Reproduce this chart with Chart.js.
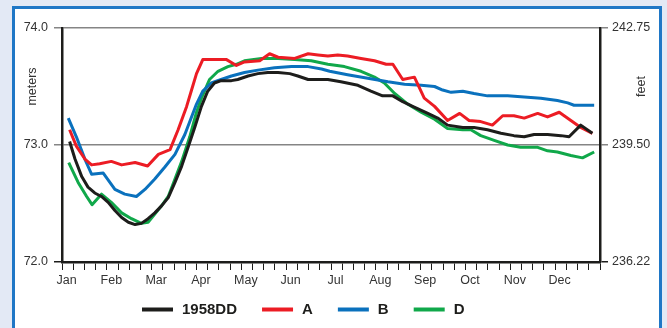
<!DOCTYPE html>
<html>
<head>
<meta charset="utf-8">
<title>Reservoir level 1958DD, A, B, D</title>
<script src="https://cdn.jsdelivr.net/npm/chart.js@4.4.1/dist/chart.umd.min.js"></script>
<style>
  html, body { margin: 0; padding: 0; background: #e3e9f5; overflow: hidden; }
  #panel {
    position: absolute; left: 12px; top: 6px; width: 644px; height: 340px;
    border: 3px solid #1f77c6; background: #ffffff;
  }
  #chart { position: absolute; left: 0; top: 0; }
</style>
</head>
<body>
<div id="panel"></div>
<canvas id="chart" width="667" height="328"></canvas>
<script>
// Month labels and axis ticks
const monthLabels = ['Jan', 'Feb', 'Mar', 'Apr', 'May', 'Jun', 'Jul', 'Aug', 'Sep', 'Oct', 'Nov', 'Dec'];
const meterTicks = [72.0, 73.0, 74.0];
const feetTicks = [236.22, 239.50, 242.75];

// Series: time in months from Jan 1, water level in meters
const monthsDD = [0.17, 0.29, 0.44, 0.58, 0.73, 0.88, 1.03, 1.18, 1.33, 1.48, 1.63, 1.77, 1.92, 2.07, 2.22, 2.37, 2.52, 2.67, 2.82, 2.96, 3.11, 3.25, 3.40, 3.55, 3.78, 3.92, 4.15, 4.37, 4.59, 4.82, 5.08, 5.26, 5.49, 5.71, 5.93, 6.22, 6.60, 6.89, 7.15, 7.38, 7.60, 7.82, 8.16, 8.38, 8.60, 8.94, 9.19, 9.49, 9.79, 10.08, 10.31, 10.53, 10.83, 11.13, 11.31, 11.57, 11.83];
const levelsDD = [73.03, 72.88, 72.73, 72.64, 72.59, 72.56, 72.51, 72.44, 72.38, 72.34, 72.32, 72.33, 72.37, 72.42, 72.48, 72.55, 72.68, 72.82, 72.99, 73.15, 73.33, 73.46, 73.53, 73.55, 73.55, 73.56, 73.59, 73.61, 73.62, 73.62, 73.61, 73.59, 73.56, 73.56, 73.56, 73.54, 73.51, 73.46, 73.42, 73.42, 73.37, 73.33, 73.27, 73.23, 73.17, 73.15, 73.15, 73.13, 73.10, 73.08, 73.07, 73.09, 73.09, 73.08, 73.07, 73.17, 73.10];

const monthsA = [0.17, 0.32, 0.51, 0.66, 0.84, 1.10, 1.33, 1.63, 1.91, 2.15, 2.41, 2.59, 2.78, 2.89, 3.00, 3.14, 3.67, 3.89, 4.07, 4.41, 4.63, 4.82, 5.19, 5.49, 5.71, 5.93, 6.15, 6.37, 6.67, 6.97, 7.23, 7.38, 7.60, 7.86, 8.08, 8.31, 8.60, 8.87, 9.08, 9.34, 9.60, 9.83, 10.08, 10.31, 10.61, 10.83, 11.09, 11.35, 11.57, 11.83];
const levelsA = [73.13, 72.99, 72.88, 72.83, 72.84, 72.86, 72.83, 72.85, 72.82, 72.92, 72.96, 73.13, 73.33, 73.47, 73.61, 73.73, 73.73, 73.68, 73.71, 73.72, 73.78, 73.75, 73.74, 73.78, 73.77, 73.76, 73.77, 73.76, 73.74, 73.72, 73.69, 73.69, 73.56, 73.58, 73.40, 73.33, 73.21, 73.27, 73.21, 73.20, 73.17, 73.25, 73.25, 73.23, 73.27, 73.24, 73.28, 73.21, 73.15, 73.10];

const monthsB = [0.14, 0.32, 0.51, 0.66, 0.92, 1.18, 1.40, 1.66, 1.85, 2.07, 2.29, 2.52, 2.74, 3.00, 3.14, 3.33, 3.55, 3.78, 4.07, 4.37, 4.74, 5.12, 5.49, 5.79, 5.97, 6.37, 6.82, 7.27, 7.64, 8.01, 8.31, 8.49, 8.68, 8.94, 9.19, 9.49, 9.94, 10.31, 10.68, 11.05, 11.28, 11.42, 11.87];
const levelsB = [73.23, 73.07, 72.88, 72.75, 72.76, 72.62, 72.58, 72.56, 72.62, 72.71, 72.81, 72.92, 73.09, 73.35, 73.46, 73.53, 73.56, 73.59, 73.62, 73.64, 73.66, 73.67, 73.67, 73.65, 73.63, 73.60, 73.57, 73.54, 73.52, 73.51, 73.50, 73.47, 73.45, 73.46, 73.44, 73.42, 73.42, 73.41, 73.40, 73.38, 73.36, 73.34, 73.34];

const monthsD = [0.15, 0.36, 0.55, 0.67, 0.88, 1.10, 1.33, 1.55, 1.77, 1.92, 2.07, 2.22, 2.37, 2.52, 2.67, 2.85, 3.00, 3.11, 3.29, 3.48, 3.70, 3.89, 4.07, 4.45, 4.82, 5.19, 5.56, 5.93, 6.30, 6.67, 6.97, 7.19, 7.42, 7.71, 8.01, 8.31, 8.60, 8.94, 9.12, 9.34, 9.64, 9.94, 10.23, 10.61, 10.83, 11.05, 11.35, 11.61, 11.87];
const levelsD = [72.85, 72.68, 72.56, 72.49, 72.58, 72.51, 72.42, 72.37, 72.33, 72.34, 72.41, 72.48, 72.56, 72.71, 72.86, 73.07, 73.28, 73.40, 73.56, 73.63, 73.67, 73.69, 73.72, 73.74, 73.74, 73.73, 73.72, 73.69, 73.67, 73.63, 73.58, 73.53, 73.44, 73.35, 73.28, 73.22, 73.14, 73.13, 73.13, 73.08, 73.04, 73.00, 72.98, 72.98, 72.95, 72.94, 72.91, 72.89, 72.94];

const seriesNames = ['1958DD', 'A', 'B', 'D'];
const seriesColors = ['#1d1d1b', '#ec1c24', '#0a71bd', '#10a84a'];

function toPoints(xs, ys) {
  return xs.map((x, i) => ({ x: x, y: ys[i] }));
}

const seriesData = [
  toPoints(monthsDD, levelsDD),
  toPoints(monthsA, levelsA),
  toPoints(monthsB, levelsB),
  toPoints(monthsD, levelsD)
];

const FONT = '"Liberation Sans", Arial, Helvetica, sans-serif';
const GRID_GREY = '#858585';
const AXIS_BLACK = '#1d1d1b';

// Rotated unit titles next to each vertical axis
const unitTitles = {
  id: 'unitTitles',
  afterDraw(chart) {
    const ctx = chart.ctx;
    const y = chart.scales.y.getPixelForValue(73.5);
    ctx.save();
    ctx.fillStyle = '#333333';
    ctx.font = '12.5px ' + FONT;
    ctx.textAlign = 'center';
    ctx.textBaseline = 'middle';
    [['meters', 32.5], ['feet', 641.5]].forEach(([txt, x]) => {
      ctx.save();
      ctx.translate(x, y);
      ctx.rotate(-Math.PI / 2);
      ctx.fillText(txt, 0, 0);
      ctx.restore();
    });
    ctx.restore();
  }
};

// Single-row legend under the axis: a short thick line, then the bold series name
const lineLegend = {
  id: 'lineLegend',
  afterDraw(chart) {
    const ctx = chart.ctx;
    const y = 309.5;
    const swatch = 31, gap = 9, spacing = 25;
    ctx.save();
    ctx.font = 'bold 15px ' + FONT;
    ctx.textBaseline = 'middle';
    ctx.textAlign = 'left';
    let x = 142;
    chart.data.datasets.forEach(ds => {
      ctx.strokeStyle = ds.borderColor;
      ctx.lineWidth = 4;
      ctx.lineCap = 'butt';
      ctx.beginPath();
      ctx.moveTo(x, y);
      ctx.lineTo(x + swatch, y);
      ctx.stroke();
      x += swatch + gap;
      ctx.fillStyle = '#1d1d1b';
      ctx.fillText(ds.label, x, y + 0.5);
      x += ctx.measureText(ds.label).width + spacing;
    });
    ctx.restore();
  }
};

new Chart(document.getElementById('chart'), {
  type: 'line',
  data: {
    datasets: seriesNames.map((name, i) => ({
      label: name,
      data: seriesData[i],
      borderColor: seriesColors[i],
      backgroundColor: seriesColors[i],
      borderWidth: 3,
      borderJoinStyle: 'round',
      pointRadius: 0,
      tension: 0,
      fill: false
    }))
  },
  options: {
    responsive: false,
    devicePixelRatio: 1,
    animation: false,
    layout: { padding: { top: 28, left: 0, right: 0, bottom: 36 } },
    plugins: {
      tooltip: { enabled: false },
      legend: { display: false }
    },
    scales: {
      x: {
        type: 'linear',
        min: 0,
        max: 12,
        afterFit(scale) { scale.height = 30; },
        grid: {
          drawOnChartArea: false,
          drawTicks: true,
          tickLength: 8,
          color: AXIS_BLACK,
          lineWidth: 1
        },
        border: { color: AXIS_BLACK, width: 2.5 },
        ticks: {
          stepSize: 0.25,
          autoSkip: false,
          maxRotation: 0,
          labelOffset: 4.5,
          padding: 3,
          color: '#333333',
          font: { family: FONT, size: 12.5 },
          callback(value) {
            return Number.isInteger(value) && value < 12 ? monthLabels[value] : '';
          }
        }
      },
      y: {
        position: 'left',
        min: meterTicks[0],
        max: meterTicks[meterTicks.length - 1],
        afterFit(scale) { scale.width = 62; },
        afterBuildTicks(scale) { scale.ticks = meterTicks.map(v => ({ value: v })); },
        grid: {
          drawOnChartArea: true,
          tickLength: 8,
          lineWidth: 1.5,
          color: ctx => (ctx.tick && ctx.tick.value === meterTicks[0]) ? AXIS_BLACK : GRID_GREY
        },
        border: { color: AXIS_BLACK, width: 2.5 },
        ticks: {
          padding: 6,
          color: '#333333',
          font: { family: FONT, size: 12.5 },
          callback: value => value.toFixed(1)
        }
      },
      y2: {
        position: 'right',
        min: feetTicks[0],
        max: feetTicks[feetTicks.length - 1],
        afterFit(scale) { scale.width = 67; },
        afterBuildTicks(scale) { scale.ticks = feetTicks.map(v => ({ value: v })); },
        grid: {
          drawOnChartArea: false,
          tickLength: 8,
          lineWidth: 1.5,
          color: ctx => (ctx.tick && ctx.tick.value === feetTicks[0]) ? AXIS_BLACK : GRID_GREY
        },
        border: { color: AXIS_BLACK, width: 2.5 },
        ticks: {
          padding: 4,
          color: '#333333',
          font: { family: FONT, size: 12.5 },
          callback: value => value.toFixed(2)
        }
      }
    }
  },
  plugins: [unitTitles, lineLegend]
});
</script>
</body>
</html>
